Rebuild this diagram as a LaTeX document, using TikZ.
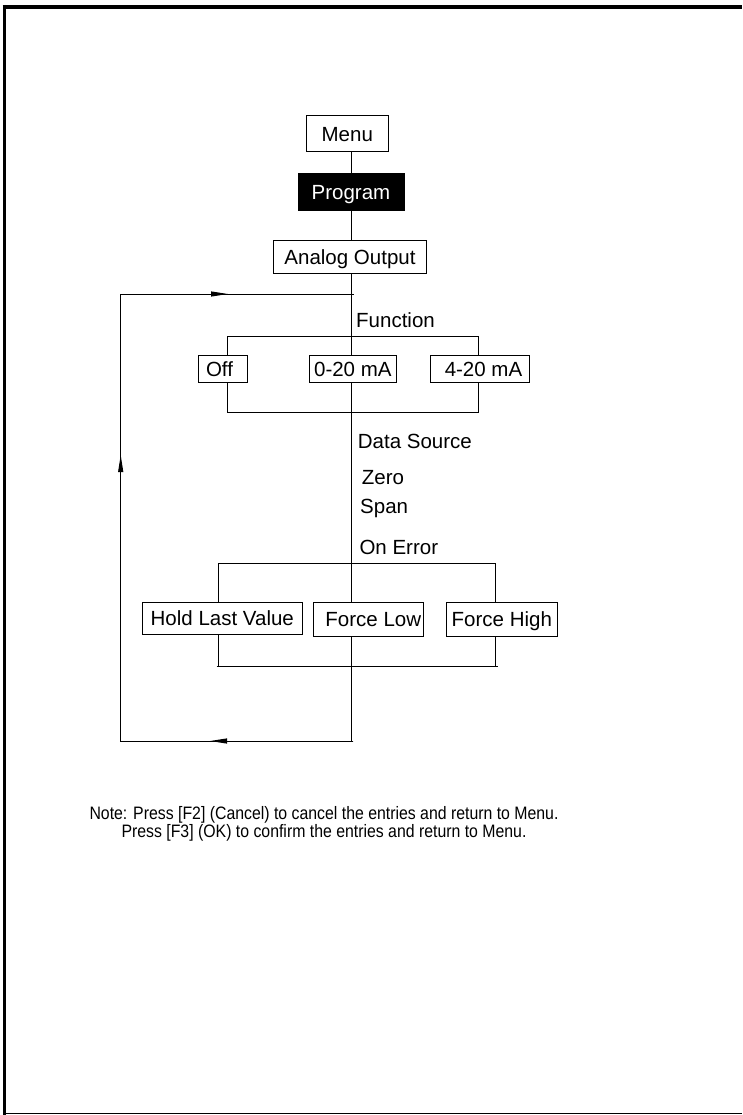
\documentclass[tikz,border=0pt]{standalone}
\usepackage{fontspec}
\setmainfont{Liberation Sans}
\newfontfamily\notefont[FakeStretch=0.88]{Liberation Sans}
\usepackage{tikz}
\usetikzlibrary{arrows.meta, positioning}
\tikzset{
  menubox/.style={
    rectangle, draw=black, line width=1pt, fill=white,
    inner sep=0pt, text centered, align=center,
    text height=16pt, text depth=1.3pt,
    font=\fontsize{20.5}{24}\selectfont},
  selbox/.style={menubox, fill=black, text=white},
  optbox/.style={menubox, minimum height=27.3pt},
  errbox/.style={menubox, minimum height=33pt},
  lbl/.style={anchor=base west, inner sep=0pt,
    font=\fontsize{20.5}{24}\selectfont},
  notetext/.style={align=center, inner sep=0pt,
    font=\notefont\fontsize{18}{14}\selectfont},
  ln/.style={line width=1pt, color=black},
  arr/.style={-{Triangle[length=17pt,width=5pt]}, line width=1pt},
}

\begin{document}
\begin{tikzpicture}[x=1pt, y=-1pt]
  \useasboundingbox (0,0) rectangle (742,1115);

  % page frame
  \draw[line width=4pt] (2.5,7) -- (742,7);
  \draw[line width=3.3pt] (4.3,5) -- (4.3,1115);
  \draw[line width=1pt] (4.3,1113.3) -- (742,1113.3);

  % menu path
  \node[menubox, minimum width=82pt, minimum height=36pt] (menu) at (347.3,134) {Menu};
  \node[selbox, minimum width=106pt, minimum height=37.5pt] (prog) at (351,192) {Program};
  \node[menubox, minimum width=153pt, minimum height=33pt] (aout) at (350,256.7) {Analog Output};
  \coordinate (sp) at (351.3,0);

  % function choices
  \node[lbl] (func) at (356,327) {Function};
  \node[optbox, minimum width=49pt] (off) at (222.5,368.7) {Off\hspace*{6pt}};
  \node[optbox, minimum width=87.7pt] (f020) at (352.85,368.7) {0-20 mA};
  \node[optbox, minimum width=99pt] (f420) at (479.5,368.7) {\hspace*{8pt}4-20 mA};
  \coordinate (fTL) at (227.3,336);
  \coordinate (fTR) at (478.3,336);
  \coordinate (fBL) at (227.3,412.3);
  \coordinate (fBR) at (478.3,412.3);

  \node[lbl] (dsrc) at (357.7,448) {Data Source};
  \node[lbl] (zero) at (361.7,484) {Zero};
  \node[lbl] (span) at (360,513) {Span};

  % error choices
  \node[lbl] (onerr) at (359.3,554) {On Error};
  \node[errbox, minimum width=160pt, minimum height=32pt] (hold) at (222.3,618.3) {Hold Last Value};
  \node[errbox, minimum width=110pt, minimum height=34pt] (flow) at (368.3,619.3) {\hspace*{10pt}Force Low};
  \node[errbox, minimum width=111pt, minimum height=34pt] (fhigh) at (501.8,619.3) {Force High};
  \coordinate (eTL) at (218.3,563.3);
  \coordinate (eTR) at (495.2,563.3);
  \coordinate (eBL) at (216.7,666);
  \coordinate (eBR) at (497.7,666);

  % return loop
  \coordinate (lpTR) at (354,294);
  \coordinate (lpTL) at (120.7,294);
  \coordinate (lpBL) at (120.7,741);
  \coordinate (lpBR) at (353.3,741);
  \coordinate (tipT) at (228,294);
  \coordinate (tipL) at (120.7,455);
  \coordinate (tipB) at (210,741);

  \draw[ln] (menu.south -| sp) -- (prog.north -| sp);
  \draw[ln] (prog.south -| sp) -- (aout.north -| sp);
  \draw[ln] (aout.south -| sp) -- (f020.north -| sp);
  \draw[ln] (f020.south -| sp) -- (flow.north -| sp);
  \draw[ln] (flow.south -| sp) -- (lpBR -| sp);

  \draw[ln] (off.north -| fTL) -- (fTL) -- (fTR) -- (f420.north -| fTR);
  \draw[ln] (off.south -| fBL) -- (fBL) -- (fBR) -- (f420.south -| fBR);

  \draw[ln] (hold.north -| eTL) -- (eTL) -- (eTR) -- (fhigh.north -| eTR);
  \draw[ln] (hold.south -| eTL) -- (eTL |- eBL);
  \draw[ln] (fhigh.south -| eTR) -- (eTR |- eBR);
  \draw[ln] (eBL) -- (eBR);

  \draw[ln] (lpBR) -- (lpBL) -- (lpTL) -- (lpTR);
  \draw[arr] (lpBR) -- (tipB);
  \draw[arr] (lpBL) -- (tipL);
  \draw[arr] (lpTL) -- (tipT);

  \node[notetext] (note) at (324,824)
    {Note: Press [F2] (Cancel) to cancel the entries and return to Menu.\\
     Press [F3] (OK) to confirm the entries and return to Menu.};
\end{tikzpicture}
\end{document}
